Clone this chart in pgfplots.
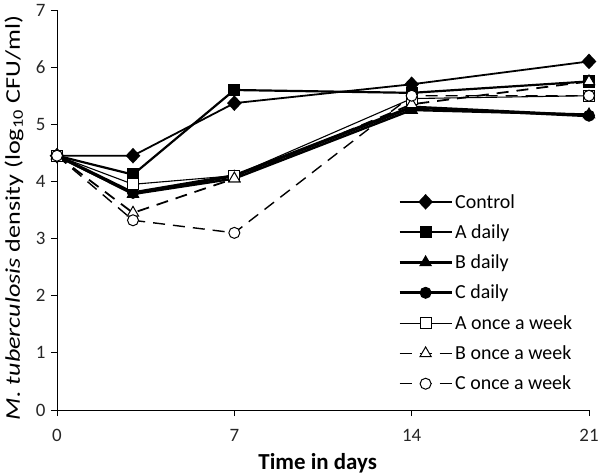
\documentclass[border=0pt]{standalone}
\usepackage{fontspec}
\setmainfont{Carlito}
\usepackage{pgfplots}
\pgfplotsset{compat=1.18}
\begin{document}
\begin{tikzpicture}
\useasboundingbox (0bp,0bp) rectangle (602bp,476bp);
\begin{axis}[
  at={(57bp,66bp)}, anchor=south west,
  scale only axis, width=532bp, height=400bp,
  xmin=0, xmax=21, ymin=0, ymax=7,
  axis lines=left, axis line style={-, line width=1bp},
  xtick={0,7,14,21}, ytick={0,1,2,3,4,5,6,7},
  tick align=outside, major tick length=6bp,
  tick style={black, line width=1bp},
  /pgf/number format/assume math mode=true,
  ticklabel style={font=\fontsize{19}{22}\selectfont, text=black!85},
  xticklabel style={yshift=-10bp},
  yticklabel style={xshift=-2bp},
  xlabel={\textbf{Time in days}},
  xlabel style={at={(axis description cs:0.49,0)}, anchor=center, yshift=-53bp, font=\fontsize{23}{26}\selectfont},
  ylabel={\textit{M. tuberculosis} density (log\textsubscript{10} CFU/ml)},
  ylabel style={at={(axis description cs:0,0.48)}, anchor=center, yshift=43bp, xscale=1.25, font=\fontsize{21}{24}\selectfont},
  legend cell align=left,
  legend style={at={(axis description cs:0.635,0.55)}, anchor=north west, draw=none, fill=none,
    font=\fontsize{20}{23}\selectfont, row sep=11bp},
  legend image code/.code={
    \draw[mark repeat=2,mark phase=2,#1] plot coordinates {(0bp,0bp) (26bp,0bp) (52bp,0bp)};
  },
]
\addplot[black, line width=1.8bp, mark=diamond*, mark size=6.5bp, mark options={solid, fill=black, xscale=1.25}]
  coordinates {(0,4.45) (3,4.45) (7,5.37) (14,5.7) (21,6.1)};
\addlegendentry{Control}
\addplot[black, line width=2.2bp, mark=square*, mark size=5bp, mark options={solid, fill=black}]
  coordinates {(0,4.45) (3,4.12) (7,5.6) (14,5.55) (21,5.75)};
\addlegendentry{A daily}
\addplot[black, line width=2.4bp, mark=triangle*, mark size=6.5bp, mark options={solid, fill=black, line width=1bp}]
  coordinates {(0,4.45) (3,3.78) (7,4.05) (14,5.25) (21,5.17)};
\addlegendentry{B daily}
\addplot[black, line width=3.2bp, mark=*, mark size=5.5bp, mark options={solid, fill=black, line width=1bp}]
  coordinates {(0,4.45) (3,3.8) (7,4.1) (14,5.3) (21,5.15)};
\addlegendentry{C daily}
\addplot[black, line width=1.1bp, mark=square*, mark size=5.5bp, mark options={solid, fill=white, line width=1bp}]
  coordinates {(0,4.45) (3,3.95) (7,4.1) (14,5.45) (21,5.5)};
\addlegendentry{A once a week}
\addplot[black, line width=1.8bp, dash pattern=on 12bp off 8bp, mark=triangle*, mark size=6.5bp, mark options={solid, fill=white, line width=1bp}]
  coordinates {(0,4.45) (3,3.45) (7,4.05) (14,5.35) (21,5.75)};
\addlegendentry{B once a week}
\addplot[black, line width=1.4bp, dash pattern=on 12bp off 8bp, mark=*, mark size=5.5bp, mark options={solid, fill=white, line width=1bp}]
  coordinates {(0,4.45) (3,3.32) (7,3.1) (14,5.5) (21,5.5)};
\addlegendentry{C once a week}
\end{axis}
\end{tikzpicture}
\end{document}
